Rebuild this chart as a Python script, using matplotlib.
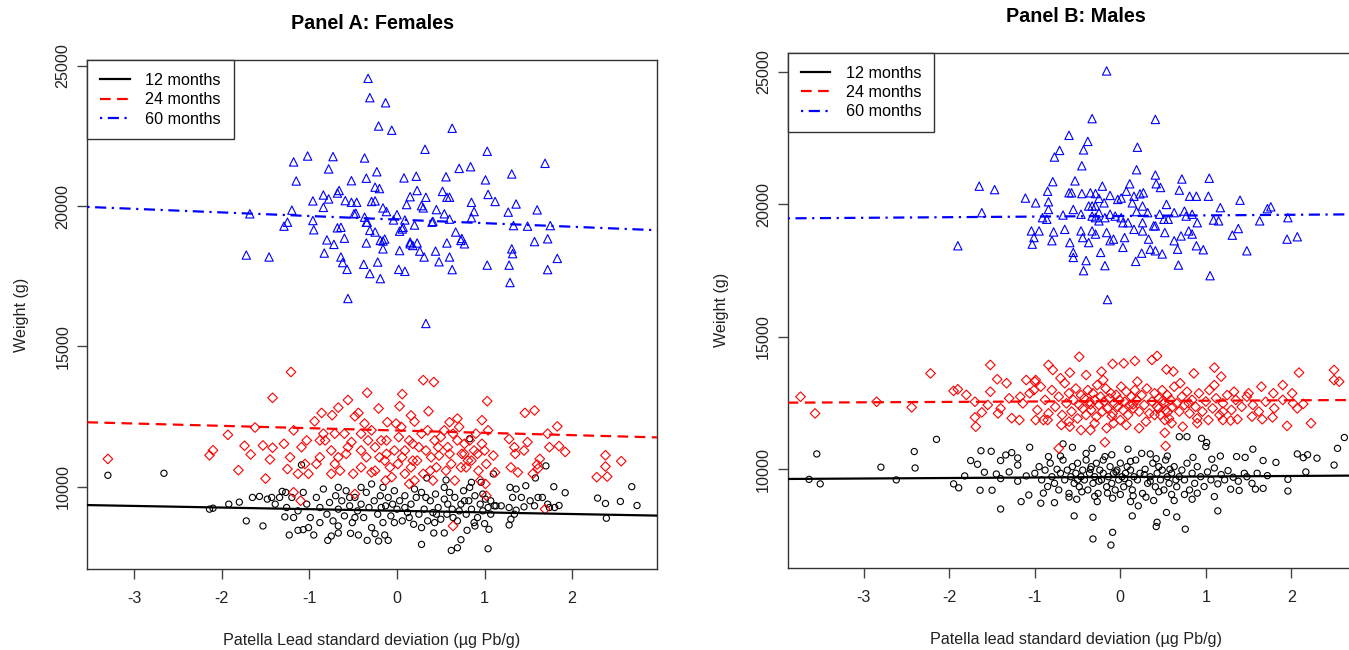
import matplotlib
matplotlib.use("Agg")
from matplotlib import pyplot as plt

plt.rcParams['font.family'] = ['Liberation Sans', 'DejaVu Sans']
plt.rcParams['axes.unicode_minus'] = False

# ---- Panel A: females (x = patella lead SD, y = weight in g) ----
fem_12 = [(-3.30,10407),(-2.66,10478),(-2.14,9199),(-2.10,9234),(-1.92,9378),(-1.80,9450),(-1.72,8780),
    (-1.53,8600),(-1.65,9617),(-1.57,9653),(-1.48,9557),(-1.43,9617),(-1.28,8923),(-1.31,9833),(-1.23,8278),
    (-1.13,8445),(-1.07,8469),(-0.95,8278),(-1.09,10778),(-0.79,8086),(-0.75,8242),(-0.67,8349),(-0.53,8337),
    (-0.44,8278),(-0.34,8086),(-0.21,8062),(-0.10,8086),(-0.25,8325),(-0.14,8278),(0.28,7943),(0.42,8349),
    (0.54,8349),(0.62,7727),(0.69,7823),(0.73,8110),(0.80,8445),(0.89,8600),(1.04,7787),(1.05,8481),(1.00,8684),
    (1.28,8636),(1.30,8840),(1.19,9318),(1.13,9318),(1.29,9976),(1.47,10036),(1.58,10311),(1.70,10742),
    (1.79,10000),(1.92,9785),(1.85,9330),(1.74,9258),(1.61,9617),(1.52,9498),(1.45,9282),(1.36,9163),
    (2.29,9593),(2.38,9402),(2.39,8876),(2.55,9474),(2.68,10000),(2.74,9330),(0.34,10311),(0.56,10239),
    (1.10,10455),(0.85,10156),(0.96,10156),(0.83,11711),
    (-1.26,9258),(-1.20,9617),(-1.13,9139),(-1.07,9797),(-1.03,9378),(-0.99,8900),(-0.92,9617),(-0.88,9258),
    (-0.84,9916),(-0.80,9019),(-0.77,9438),(-0.73,8780),(-0.70,9677),(-0.67,9199),(-0.63,9498),(-0.60,8959),
    (-0.58,9856),(-0.54,9318),(-0.51,8720),(-0.48,9617),(-0.45,9139),(-0.41,9378),(-0.38,8900),(-0.35,9797),
    (-0.32,9258),(-0.29,8541),(-0.26,9498),(-0.22,9019),(-0.19,9677),(-0.16,8720),(-0.13,9318),(-0.10,9617),
    (-0.07,8959),(-0.03,9856),(0.00,9199),(0.03,9498),(0.06,8780),(0.09,9677),(0.12,9079),(0.16,9378),
    (0.19,8660),(0.22,9617),(0.25,9019),(0.28,9797),(0.31,9199),(0.35,8780),(0.38,9498),(0.41,9079),
    (0.44,9737),(0.47,9258),(0.50,8840),(0.54,9557),(0.57,9019),(0.60,9797),(0.63,9199),(0.66,9617),
    (0.69,8780),(0.73,9378),(0.76,9856),(0.79,9019),(0.82,9498),(0.85,9199),(0.89,9677),(0.92,8900),
    (0.95,9378),(0.98,9139),(1.01,9557),(1.04,9258),(1.07,9019),(1.11,9318),(-1.18,8900),(-1.01,8541),
    (-0.88,8720),(-0.67,8601),(-0.54,9617),(-0.41,9976),(-0.29,10096),(-0.16,9976),(-0.03,8720),(0.09,9258),
    (0.20,9916),(0.33,9617),(0.43,8720),(0.54,9976),(0.64,8900),(0.77,9498),(0.88,8720),(0.98,9737),
    (1.07,9498),(-0.67,9976),(-0.48,8900),(-0.18,9258),(-0.05,9378),(0.14,8900),(0.28,8541),(0.45,9019),
    (0.58,9378),(0.71,9139),(0.83,9976),(1.32,9617),(1.36,9916),(1.42,9617),(1.28,9258),(1.34,9019),
    (1.57,9318),(1.66,9617),(1.72,9378),(1.80,9258),(-1.34,9617),(-1.39,9378),(-1.27,9797)]

fem_24 = [(-1.21,14090),(-1.42,13170),(-0.34,13350),(0.06,13300),(0.30,13800),(0.42,13730),(1.03,13050),
    (1.46,12630),(1.57,12720),(-0.56,13090),(-0.67,12820),(-0.21,12790),(0.03,12870),(-0.86,12630),
    (-0.94,12330),(-0.74,12550),(-0.48,12510),(-0.44,12630),(-0.11,12300),(-0.01,12250),(0.16,12540),
    (0.20,12320),(0.36,12690),(0.60,12300),(0.69,12430),(0.97,12370),(1.04,12010),(1.83,12150),(1.72,11890),
    (1.85,11450),(1.92,11240),(1.28,11700),(1.34,11410),(1.35,11170),(1.49,11590),(1.63,10990),(1.61,10650),
    (1.60,10790),(2.38,11120),(2.38,10720),(2.40,10360),(2.28,10340),(2.56,10910),(1.02,10810),(1.10,11110),
    (1.12,10510),(1.02,9680),(0.64,8600),(1.69,9200),(-3.30,10990),(-2.14,11120),(-2.10,11300),(-1.93,11850),
    (-1.81,10590),(-1.74,11460),(-1.67,11150),(-1.62,12110),(-1.53,11470),(-1.42,11390),(-1.50,10290),
    (-1.45,10970),(-1.25,10630),(-1.18,12010),(-1.29,11530),(-1.09,11410),(-1.10,9500),(-1.18,9800),
    (-1.01,10460),(-0.88,11050),(-0.82,11650),(-0.75,11290),(-0.71,10810),(-0.65,10570),(-0.58,11170),
    (-0.52,11590),(-0.48,9740),(-0.41,11890),(-0.35,11050),(-0.29,10510),(-0.25,11410),(-0.18,11650),
    (-0.14,10930),(-0.08,10690),(-0.03,11290),(0.02,11770),(0.06,11050),(0.09,10460),(0.14,10100),
    (0.18,11530),(0.23,10930),(0.28,11890),(0.33,11290),(0.38,10570),(0.43,11650),(0.48,11110),(0.54,12010),
    (0.58,11410),(0.62,10810),(0.69,11650),(0.74,11170),(0.79,10690),(0.83,11650),(0.88,11290),(0.93,10570),
    (0.97,11530),(1.01,10100),(0.81,10930),(-1.03,11650),(-0.92,10810),(-0.84,11890),(-0.67,11050),
    (-0.60,11890),(-0.50,10460),(-0.41,10690),(-0.33,11650),(-0.25,10570),(-0.12,11650),(-0.06,10340),
    (0.05,12130),(0.09,11290),(0.16,10690),(0.25,11410),(0.30,10460),(0.39,11050),(0.45,10690),(0.50,11770),
    (0.56,10570),(0.64,11890),(0.66,10220),(0.73,10690),(0.77,11530),(0.85,10930),(0.92,11170),(0.95,10220),
    (1.00,11290),(1.30,10690),(1.38,10510),(1.45,11290),(1.55,10460),(1.74,11410),(-1.22,11050),(-1.13,10460),
    (-1.05,10810),(-0.71,11890),(-0.56,11410),(-0.37,12250),(-0.29,12010),(-0.20,11050),(-0.13,10220),
    (0.01,10810),(0.14,11650),(0.20,10220),(0.35,12010),(0.41,10220),(0.60,11170),(0.71,12130),(0.90,11890),
    (-0.75,10460),(-0.88,11650),(-0.41,11290),(-0.12,11170),(0.18,10930),(0.47,11410),(0.77,11170)]

fem_60 = [(-0.33,24560),(-0.31,23870),(-0.13,23690),(-0.21,22860),(-0.06,22710),(0.63,22780),(0.32,22030),
    (1.03,21960),(-1.02,21790),(-1.18,21580),(-0.73,21770),(-0.37,21720),(1.69,21530),(-0.78,21330),
    (-1.15,20900),(-0.52,20910),(-0.35,21000),(-0.23,21230),(0.08,21010),(0.22,21070),(0.56,21050),
    (0.71,21350),(0.84,21410),(1.01,20940),(1.31,21150),(-0.66,20560),(-0.25,20680),(-0.20,20630),
    (-0.84,20400),(-0.96,20190),(-0.78,20260),(-0.84,19960),(-0.59,20200),(-0.52,20140),(-0.46,20140),
    (-0.29,20170),(-0.25,20190),(-0.16,19940),(0.15,20340),(0.23,20560),(0.33,20320),(0.11,20060),
    (0.28,20020),(0.52,20530),(0.57,20320),(0.60,20320),(0.45,19880),(0.54,19730),(0.85,20140),(1.04,20420),
    (1.12,20170),(1.36,20080),(1.27,19790),(1.60,19870),(0.88,19810),(0.85,19590),(-1.68,19730),(-1.20,19860),
    (-1.25,19430),(-1.29,19290),(-0.96,19490),(-0.95,19160),(-0.68,19230),(-0.64,19250),(-0.60,18860),
    (-0.80,18800),(-0.72,18640),(-0.83,18330),(-0.64,18190),(-0.62,17990),(-0.57,17750),(-0.38,17930),
    (-0.22,18010),(-0.31,17600),(-0.19,17420),(-0.56,16710),(-1.72,18260),(-1.46,18190),(-0.49,19730),
    (-0.37,19610),(-0.34,19430),(-0.31,19140),(-0.35,18690),(-0.25,19080),(-0.19,18780),(-0.14,18830),
    (-0.16,18480),(-0.12,19810),(0.00,19700),(0.09,19510),(0.03,19110),(0.06,19190),(0.03,18420),(0.02,17750),
    (0.09,17680),(0.15,18660),(0.18,18600),(0.23,18690),(0.26,18400),(0.20,19330),(0.30,19940),(0.40,19430),
    (0.31,18190),(0.44,18400),(0.48,18020),(0.60,18190),(0.63,17740),(0.57,18690),(0.67,19080),(0.73,18780),
    (0.77,18660),(1.03,17900),(1.28,17900),(1.29,17280),(1.31,18480),(1.32,18310),(1.33,19310),(1.49,19290),
    (1.57,18740),(1.72,18840),(1.75,19310),(1.83,18140),(1.72,17740),(0.33,15820),(0.41,19460),(0.60,19540),
    (-0.04,19510),(-0.68,20470),(-0.47,19750),(0.07,19250),(0.15,18720),(-0.16,18760),(-0.35,19430),(0.74,18850)]

# ---- Panel B: males ----
male_12 = [(-3.55,10580),(-3.64,9620),(-3.51,9450),(-2.80,10080),(-2.62,9600),(-2.41,10670),(-2.40,10050),
    (-2.15,11130),(-1.95,9450),(-1.89,9300),(-1.82,9750),(-1.75,10330),(-1.67,10190),(-1.64,9210),
    (-1.63,10700),(-1.51,10680),(-1.50,9210),(-1.59,9890),(-1.45,9820),(-1.40,8500),(-1.40,10330),
    (-1.34,10540),(-1.27,10630),(-1.06,10830),(-1.20,10430),(-1.20,10160),(-1.16,8780),(-1.07,9030),
    (-0.93,8720),(-0.84,10480),(-0.77,8740),(-0.67,10960),(-0.56,10830),(-0.54,8240),(-0.51,8870),
    (-0.33,10790),(-0.32,8190),(-0.32,7370),(-0.27,8780),(-0.11,7140),(-0.09,7620),(-0.09,8910),(0.09,10760),
    (0.12,8780),(0.14,8240),(0.21,8620),(0.35,10580),(0.39,8820),(0.43,8000),(0.42,7840),(0.54,8370),
    (0.63,8820),(0.66,8200),(0.76,7740),(0.78,11230),(0.84,8870),(0.95,11170),(1.01,11010),(1.00,10860),
    (1.10,8970),(1.14,8430),(1.07,10380),(1.17,10500),(1.29,9250),(1.36,10480),(1.39,9200),(1.46,10450),
    (1.48,9720),(1.54,9470),(1.55,10760),(1.58,9250),(1.60,9850),(1.67,10330),(1.67,9280),(1.72,9760),
    (1.82,10260),(1.96,9620),(1.96,9180),(2.07,10580),(2.14,10440),(2.17,9900),(2.19,10550),(2.30,10420),
    (2.50,10160),(2.54,10790),(2.62,11200),(0.69,11230),
    (-1.00,9850),(-0.95,10100),(-0.92,9600),(-0.88,9970),(-0.85,9350),(-0.82,10230),(-0.80,9720),(-0.77,9470),
    (-0.74,10000),(-0.72,9220),(-0.70,9850),(-0.67,10350),(-0.65,9600),(-0.62,9970),(-0.60,9090),(-0.58,9720),
    (-0.56,10100),(-0.54,9470),(-0.52,9850),(-0.50,10230),(-0.48,9340),(-0.46,9720),(-0.44,9970),(-0.42,9600),
    (-0.40,10350),(-0.38,9220),(-0.36,9850),(-0.34,10100),(-0.32,9470),(-0.30,9720),(-0.28,10230),(-0.26,9090),
    (-0.24,9970),(-0.22,9600),(-0.20,9850),(-0.18,10480),(-0.16,9340),(-0.14,9720),(-0.12,10100),(-0.10,9470),
    (-0.08,9850),(-0.06,9220),(-0.04,9970),(-0.02,9600),(0.00,10230),(0.02,9720),(0.04,9340),(0.06,9850),
    (0.08,10100),(0.10,9470),(0.12,9970),(0.14,9220),(0.16,9720),(0.18,10350),(0.20,9600),(0.23,9850),
    (0.26,9090),(0.29,10000),(0.32,9470),(0.35,9720),(0.38,10230),(0.41,9340),(0.43,9850),(0.45,10100),
    (0.47,9600),(0.49,9970),(0.51,9220),(0.53,10350),(0.55,9720),(0.57,9470),(0.60,9850),(0.63,10100),
    (0.66,9340),(0.69,9720),(0.72,9970),(0.75,9600),(0.78,10230),(0.81,9220),(0.84,9850),(0.87,9470),
    (0.90,10100),(0.94,9720),(0.98,9350),(1.02,9900),(1.06,9600),(1.10,10050),(1.14,9450),(1.18,9800),
    (1.22,9600),(1.26,9950),(1.32,9700),(1.38,9550),(1.45,9850),(-1.10,9750),(-1.20,9550),(-1.30,9900),
    (-1.40,9650),(-0.90,9100),(-0.60,8950),(-0.30,8980),(0.00,9050),(0.30,8950),(0.60,9050),(0.90,9100),
    (-0.70,10500),(-0.40,10600),(-0.10,10550),(0.25,10600),(0.55,10500),(0.85,10450),(-0.45,9150),
    (-0.15,9100),(0.15,9000),(0.45,9150),(0.75,9050),(-0.50,9600),(-0.25,9550),(0.05,9650),(0.35,9550),
    (0.65,9600),(-0.35,10000),(-0.05,9900),(0.28,9800),(0.58,10000),(-0.20,10350),(0.12,10300),(0.42,10400)]

male_24 = [(-3.74,12740),(-3.57,12110),(-2.85,12550),(-2.44,12340),(-2.22,13620),(-1.95,12960),(-1.90,13020),
    (-1.80,12810),(-1.69,11610),(-1.70,11960),(-1.62,12150),(-1.52,13940),(-1.52,12930),(-1.44,13400),
    (-1.43,12110),(-1.33,13250),(-1.27,11930),(-1.18,11860),(-1.17,12740),(-1.10,13370),(-1.01,12990),
    (-0.99,13370),(-0.84,13940),(-0.79,13750),(-0.85,11860),(-0.69,11670),(-0.59,13650),(-0.48,14250),
    (-0.40,13560),(-0.22,13690),(-0.09,13980),(0.04,14000),(0.17,14090),(0.37,14130),(0.43,14280),
    (0.54,13770),(0.62,13690),(0.86,13620),(1.10,13840),(1.18,13500),(0.53,10880),(0.52,11380),(-0.35,11480),
    (-0.72,10790),(-0.18,11020),(1.33,12930),(1.50,12870),(1.65,13120),(1.79,12870),(1.90,13180),(2.01,12870),
    (2.09,13650),(2.07,12300),(2.14,12470),(2.23,11740),(1.95,11640),(1.78,11960),(1.66,11890),(1.54,11990),
    (1.37,11890),(1.29,11840),(2.50,13750),(2.50,13370),(2.56,13310),(1.20,12180),(1.03,11860),(0.90,11740),
    (0.73,11610),(0.52,11860),(0.22,11550),(0.07,11670),(-0.08,11740),(-0.16,11550),(-0.46,11480),
    (-0.59,11610),(-0.99,11860),
    (-1.14,12490),(-1.06,12870),(-0.97,12240),(-0.93,13120),(-0.88,12620),(-0.84,12110),(-0.80,12990),
    (-0.76,12360),(-0.72,12740),(-0.68,12050),(-0.65,13250),(-0.63,12490),(-0.60,12870),(-0.57,12180),
    (-0.55,12620),(-0.52,13050),(-0.50,11920),(-0.48,12430),(-0.46,12800),(-0.44,12300),(-0.42,12680),
    (-0.40,12050),(-0.38,12990),(-0.36,12550),(-0.34,12240),(-0.32,12870),(-0.30,12620),(-0.28,11980),
    (-0.27,13180),(-0.25,12430),(-0.23,12740),(-0.21,12180),(-0.19,12560),(-0.17,13050),(-0.15,12300),
    (-0.13,12680),(-0.11,12870),(-0.09,12110),(-0.07,12490),(-0.05,12810),(-0.03,12360),(-0.01,12620),
    (0.01,13120),(0.03,12240),(0.05,12550),(0.07,12930),(0.09,12050),(0.11,12430),(0.13,12740),(0.15,12300),
    (0.17,12990),(0.19,12620),(0.22,12180),(0.25,12800),(0.28,12430),(0.31,13050),(0.34,12110),(0.37,12560),
    (0.40,12870),(0.43,12360),(0.45,12680),(0.47,12050),(0.49,12990),(0.51,12490),(0.53,12240),(0.55,12800),
    (0.57,11920),(0.59,12620),(0.61,12360),(0.63,13120),(0.66,12490),(0.69,12180),(0.72,12740),(0.75,12430),
    (0.78,12930),(0.81,12110),(0.84,12620),(0.88,12360),(0.92,12870),(0.96,12180),(1.00,12560),(1.04,12990),
    (1.08,12300),(1.12,12680),(1.16,12050),(1.20,12490),(1.25,12800),(1.30,12240),(1.35,12620),(1.42,12360),
    (1.48,12740),(1.55,12430),(1.62,12180),(1.70,12550),(1.80,12300),(1.90,12620),(2.02,12490),(-1.30,12680),
    (-1.40,12300),(-1.55,12430),(-1.70,12550),(-0.90,11860),(-0.60,11800),(-0.30,11740),(0.00,11860),
    (0.30,11800),(0.60,11740),(0.90,11920),(1.20,11860),(-0.70,13440),(-0.20,13370),(0.20,13310),(0.70,13250),
    (1.10,13180),(-1.00,13310),(-0.10,12000),(0.40,12050),(0.80,12500),(-0.35,12450),(0.15,12450),(0.50,12600),
    (0.45,12300),(0.55,12150)]

male_60 = [(-0.16,25040),(-0.33,23240),(0.41,23210),(-0.60,22610),(-0.38,22380),(-0.43,22060),(-0.71,22040),
    (-0.77,21790),(0.20,22160),(-0.45,21460),(0.19,21310),(0.41,21110),(0.72,20960),(1.04,20990),(-0.79,20860),
    (-0.53,20890),(-0.21,20690),(0.11,20780),(0.42,20780),(0.47,20640),(0.69,20540),(-1.65,20690),(-1.47,20560),
    (-1.11,20240),(-0.99,20060),(-0.85,20500),(-0.84,20100),(-0.84,19810),(-0.60,20440),(-0.57,20440),
    (-0.45,20410),(-0.35,20440),(-0.29,20410),(-0.25,20230),(-0.19,20060),(-0.12,20340),(0.01,20240),
    (0.07,20500),(0.14,20060),(0.16,20310),(0.23,20400),(0.27,20440),(0.81,20310),(0.89,20310),(1.03,20310),
    (1.40,20160),(1.17,19880),(1.72,19840),(1.76,19910),(1.96,19500),(-1.62,19690),(-0.91,19500),(-0.86,19440),
    (-0.67,19600),(-0.55,19810),(-0.46,19630),(-0.37,19940),(-0.33,19560),(-0.29,19500),(-0.25,19690),
    (-0.18,19500),(-0.12,19630),(-0.06,19560),(0.01,19500),(0.03,19310),(0.19,19730),(0.26,19310),(0.32,19690),
    (0.41,19190),(0.46,19630),(0.51,19440),(0.54,20000),(0.63,19690),(0.75,19750),(0.84,19630),(0.90,19310),
    (1.09,19410),(1.15,19380),(1.63,19380),(-1.04,19000),(-1.01,18750),(-1.03,18500),(-0.95,19000),
    (-0.80,18630),(-0.78,18960),(-0.65,19060),(-0.59,18560),(-0.55,18190),(-0.55,18000),(-0.46,19000),
    (-0.44,18750),(-0.37,18560),(-0.40,17880),(-0.43,17500),(-0.33,19000),(-0.29,18880),(-0.23,18190),
    (-0.18,17690),(-0.16,18940),(-0.12,18630),(-0.08,18690),(0.03,18380),(0.05,18750),(0.18,17850),
    (0.25,18160),(0.26,19000),(0.33,18690),(0.35,18310),(0.39,19190),(0.41,18250),(0.49,18130),(0.52,18940),
    (0.63,18630),(0.67,18310),(0.68,17710),(0.80,19000),(0.84,18880),(0.89,18440),(0.97,18290),(1.05,17310),
    (1.31,18840),(1.38,19090),(1.48,18250),(1.95,18690),(2.07,18780),(-1.90,18440),(-0.15,16410),(-0.29,19940),
    (-0.03,20190),(0.26,19940),(0.56,19440),(0.71,18810),(0.09,19310),(0.16,19060),(0.77,19560),(-0.33,19940),
    (-0.25,19380)]

# fitted lines: (intercept at x=0, slope per SD)
fem_fit = {'12': (9141, -57.7), '24': (12004, -82.9), '60': (19524, -127.7)}
male_fit = {'12': (9710, 19.2), '24': (12575, 15.2), '60': (19564, 22.8)}

labels = ['12 months', '24 months', '60 months']
colors = ['black', 'red', 'blue']
markers = ['o', 'D', '^']
msizes = [20, 24, 36]
styles = ['-', (0, (4.8, 2.9)), (0, (1, 2.5, 5, 2.5))]

W, H = 1349, 650
fig = plt.figure(figsize=(W / 100, H / 100), dpi=100)


def panel(rect, xlim, ylim, groups, fits, title, xlabel):
    ax = fig.add_axes(rect)
    for pts, c, m, s in zip(groups, colors, markers, msizes):
        xs = [p[0] for p in pts]
        ys = [p[1] for p in pts]
        ax.scatter(xs, ys, s=s, marker=m, facecolors='none', edgecolors=c, linewidths=0.8, zorder=2)
    for key, c, ls, lab in zip(['12', '24', '60'], colors, styles, labels):
        b, m = fits[key]
        ax.axline((0, b), slope=m, color=c, lw=1.6, linestyle=ls, label=lab, zorder=3)
    ax.set_xlim(*xlim)
    ax.set_ylim(*ylim)
    ax.set_xticks([-3, -2, -1, 0, 1, 2])
    ax.set_yticks([10000, 15000, 20000, 25000])
    ax.tick_params(length=7.2, width=1, color='#444444', labelsize=11.6, labelcolor='#222222')
    ax.tick_params(axis='x', pad=8.5)
    ax.tick_params(axis='y', pad=5)
    plt.setp(ax.get_yticklabels(), rotation=90, va='center')
    for sp in ax.spines.values():
        sp.set_color('#333333')
        sp.set_linewidth(1.0)
    hpx = rect[3] * H
    wpx = rect[2] * W
    ax.set_title(title, fontsize=14.2, fontweight='bold', y=1 + 36.5 / hpx, va='center', pad=0)
    ax.set_xlabel(xlabel, fontsize=11.65, color='#222222', va='center')
    ax.xaxis.set_label_coords(0.5, -71.4 / hpx)
    ax.set_ylabel('Weight (g)', fontsize=11.65, color='#222222', va='center')
    ax.yaxis.set_label_coords(-65.8 / wpx, 0.5)
    leg = ax.legend(loc='upper left', borderaxespad=0, fancybox=False, framealpha=1,
                    edgecolor='#333333', fontsize=11.6, handlelength=1.85, handletextpad=0.95,
                    borderpad=0.8, labelspacing=0.27)
    leg.get_frame().set_linewidth(1.0)
    return ax


panel([87.3 / W, (H - 569.3) / H, 569.6 / W, 509.3 / H], (-3.535, 2.967), (7055, 25214),
      [fem_12, fem_24, fem_60], fem_fit, 'Panel A: Females',
      'Patella Lead standard deviation (\u00b5g Pb/g)')
panel([787.7 / W, (H - 567.7) / H, 576.3 / W, 515.0 / H], (-3.89, 2.85), (6285, 25729),
      [male_12, male_24, male_60], male_fit, 'Panel B: Males',
      'Patella lead standard deviation (\u00b5g Pb/g)')

fig.savefig('out.png', dpi=100)
